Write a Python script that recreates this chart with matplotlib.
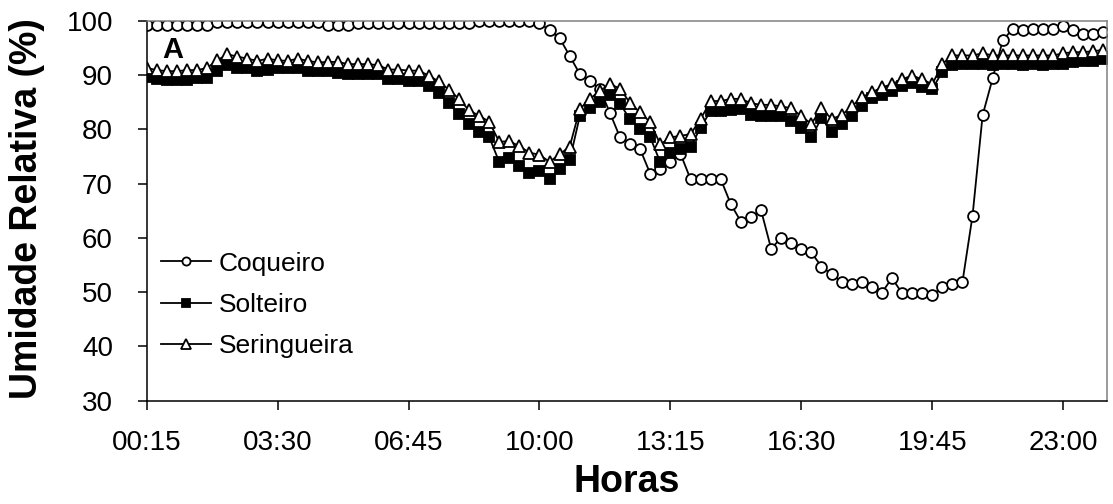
import numpy as np
import matplotlib
matplotlib.use("Agg")
import matplotlib.pyplot as plt

# ---- data (relative humidity, %, every 15 min from 00:15) ----
coqueiro = ([99.3] * 7 + [99.7] * 11 + [99.3] * 3 + [99.6] * 12 + [99.9] * 6 + [99.6] +
            [98.2, 96.8, 93.5, 90.2, 88.9, 87.4, 83.0, 78.5, 77.3, 76.3,
             71.8, 72.7, 74.0, 75.5, 70.8, 70.8, 70.8, 70.8, 66.2, 63.0,
             63.9, 65.1, 58.0, 60.0, 59.1, 58.0, 57.3, 54.7, 53.3, 51.9,
             51.5, 51.9, 50.9, 49.9, 52.6, 49.8, 49.8, 49.8, 49.5, 50.9,
             51.5, 51.9, 64.1, 82.6, 89.4, 96.4, 98.5, 98.2, 98.5, 98.5,
             98.5, 99.1, 98.2, 97.6, 97.6, 97.9])

solteiro = [89.7, 89.3, 89.1, 89.1, 89.1, 89.5, 89.5, 90.7, 91.8, 91.3,
            91.3, 90.7, 91.0, 91.2, 91.2, 91.2, 90.7, 90.7, 90.7, 90.4,
            90.1, 90.1, 90.1, 90.1, 89.2, 89.2, 88.9, 88.9, 88.0, 86.6,
            84.8, 82.8, 80.9, 79.5, 78.6, 74.0, 74.7, 73.3, 72.0, 72.3,
            70.9, 72.6, 74.3, 82.4, 83.9, 85.1, 86.4, 84.7, 81.8, 80.1,
            78.5, 73.9, 75.6, 76.3, 76.8, 80.3, 83.4, 83.4, 83.6, 83.7,
            82.7, 82.4, 82.5, 82.5, 81.5, 80.3, 78.5, 82.1, 79.5, 80.9,
            82.4, 84.2, 85.7, 86.3, 87.1, 88.0, 88.5, 87.7, 87.4, 90.6,
            91.8, 92.0, 92.0, 92.1, 91.8, 92.0, 92.1, 91.8, 92.0, 91.8,
            92.1, 92.1, 92.3, 92.6, 92.6, 92.9]

seringueira = [91.3, 90.9, 90.7, 90.7, 90.9, 90.9, 91.3, 92.7, 93.8, 93.4,
               93.0, 92.6, 93.0, 92.7, 92.6, 93.0, 92.6, 92.3, 92.4, 92.4,
               92.0, 92.0, 92.0, 91.8, 91.0, 91.0, 90.8, 90.8, 89.9, 88.8,
               87.3, 85.6, 83.5, 82.5, 81.4, 77.7, 77.8, 76.9, 75.7, 75.3,
               74.0, 75.4, 76.8, 83.7, 85.6, 87.1, 88.3, 87.5, 84.8, 83.1,
               81.3, 77.2, 78.5, 78.8, 79.1, 81.9, 85.2, 85.2, 85.6, 85.6,
               84.8, 84.5, 84.5, 84.2, 83.9, 82.4, 81.0, 83.9, 81.9, 82.6,
               84.2, 85.9, 86.8, 87.7, 88.3, 89.2, 89.9, 89.2, 88.3, 92.0,
               93.6, 93.6, 93.6, 94.0, 93.6, 93.6, 93.6, 93.6, 93.6, 93.6,
               93.6, 94.0, 94.2, 94.2, 94.4, 94.6]

tick_labels = ['00:15', '03:30', '06:45', '10:00', '13:15', '16:30', '19:45', '23:00']
series_names = ['Coqueiro', 'Solteiro', 'Seringueira']

assert len(coqueiro) == len(solteiro) == len(seringueira) == 96

plt.rcParams['font.family'] = ['Liberation Sans', 'DejaVu Sans']

W, H = 1113, 504
fig = plt.figure(figsize=(W / 100, H / 100), dpi=100)
L, R, T, B = 146.7, 1107.0, 20.7, 400.7
ax = fig.add_axes([L / W, 1 - B / H, (R - L) / W, (B - T) / H])

x = np.arange(len(coqueiro))
lw = 1.3
mew = 1.3
ax.plot(x, coqueiro, color='black', lw=lw, marker='o', ms=7.8, mfc='white',
        mec='black', mew=mew, label=series_names[0])
ax.plot(x, solteiro, color='black', lw=lw, marker='s', ms=7.8, mfc='black',
        mec='black', mew=mew, label=series_names[1])
ax.plot(x, seringueira, color='black', lw=lw, marker='^', ms=8.8, mfc='white',
        mec='black', mew=mew, label=series_names[2])

def label_pos(s):
    h, m = map(int, s.split(':'))
    return (h * 60 + m - 15) / 15

ax.set_xlim(0, 95.35)
ax.set_ylim(30, 100)
ax.set_yticks(np.arange(30, 101, 10))
ax.set_xticks([label_pos(s) for s in tick_labels])
ax.set_xticklabels(tick_labels)

ax.tick_params(axis='both', direction='out', length=6.3, width=1.1,
               labelsize=20, color='black')
ax.tick_params(axis='x', pad=15)
ax.tick_params(axis='y', pad=18)
ax.tick_params(top=False, right=False)

for s in ['left', 'bottom']:
    ax.spines[s].set_color('black')
    ax.spines[s].set_linewidth(1.1)
for s in ['top', 'right']:
    ax.spines[s].set_color('#808080')
    ax.spines[s].set_linewidth(1.1)

ax.text(0.016, 0.902, 'A', transform=ax.transAxes, fontsize=21,
        fontweight='bold', ha='left', va='baseline')

leg = ax.legend(loc='center left', bbox_to_anchor=((161 - L) / (R - L), (B - 305) / (B - T)),
                frameon=False, fontsize=19, handlelength=1.9, handletextpad=0.3,
                labelspacing=0.66, borderpad=0, borderaxespad=0, markerscale=0.75)

fig.text(27 / W, 1 - 209 / H, 'Umidade Relativa (%)', rotation=90, ha='center',
         va='center', fontsize=27, fontweight='bold')
fig.text(627 / W, 1 - 482 / H, 'Horas', ha='center', va='center',
         fontsize=27, fontweight='bold')

fig.savefig('out.png', dpi=100)
